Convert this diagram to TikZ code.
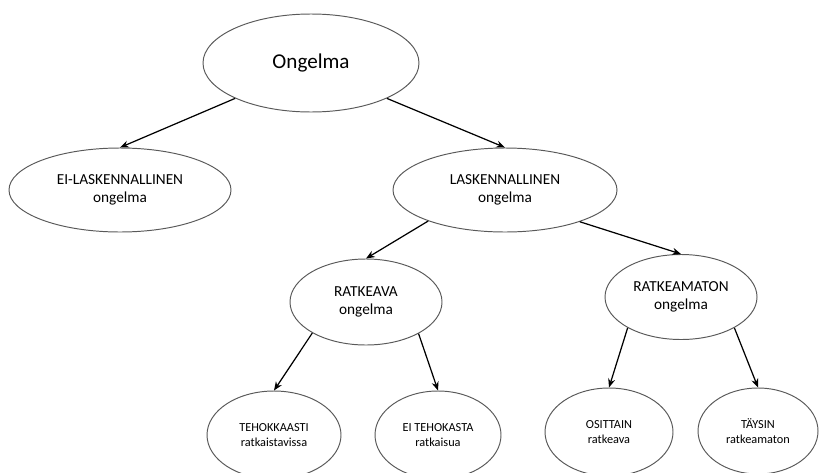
\documentclass[tikz,border=0pt]{standalone}
\usepackage{fontspec}
\setmainfont{Carlito}
\usetikzlibrary{arrows.meta}
\usetikzlibrary{shapes}
\usetikzlibrary{positioning}

\begin{document}
\begin{tikzpicture}
            \tikzset{every node/.style={ellipse, draw=black!65, line width=0.55pt, inner sep=0pt, align=center, text=black},
                    >={Stealth[black, length=5pt, width=4pt]},
                    every edge/.style={draw=black, line width=0.7pt},
                    toptext/.style={font=\fontsize{12}{14}\selectfont},
                    midtext/.style={font=\fontsize{8.7}{10.5}\selectfont},
                    lowtext/.style={font=\fontsize{7}{8.6}\selectfont}}
            \useasboundingbox (0,0) rectangle (16.38,-9.44);
            \node[toptext, minimum width=4.32cm, minimum height=1.96cm] (1) at (6.22, -1.26) {Ongelma};
            \node[midtext, minimum width=4.44cm, minimum height=1.68cm] (2) at (2.40, -3.80) {EI-LASKENNALLINEN\\ongelma};
            \node[midtext, minimum width=4.48cm, minimum height=1.68cm] (3) at (10.10, -3.80) {LASKENNALLINEN\\ongelma};
            \node[midtext, minimum width=3.04cm, minimum height=1.72cm] (4) at (7.32, -6.04) {RATKEAVA\\ongelma};
            \node[midtext, minimum width=3.04cm, minimum height=1.70cm] (5) at (13.62, -5.94) {RATKEAMATON\\ongelma};
            \node[lowtext, minimum width=2.68cm, minimum height=1.76cm] (6) at (5.48, -8.70) {TEHOKKAASTI\\ratkaistavissa};
            \node[lowtext, minimum width=2.52cm, minimum height=1.76cm] (7) at (8.76, -8.70) {EI TEHOKASTA\\ratkaisua};
            \node[lowtext, minimum width=2.56cm, minimum height=1.76cm] (8) at (12.18, -8.64) {OSITTAIN\\ratkeava};
            \node[lowtext, minimum width=2.40cm, minimum height=1.72cm] (9) at (15.16, -8.62) {TÄYSIN\\ratkeamaton};
            \path [->] (1.205) edge (2.north);
            \path [->] (1.335) edge (3.north);
            \path [->] (3.202) edge (4.north);
            \path [->] (3.337) edge (5.north);
            \path [->] (4.210) edge (6.north);
            \path [->] (4.329) edge (7.north);
            \path [->] (5.210) edge (8.north);
            \path [->] (5.330) edge (9.north);
        \end{tikzpicture}
\end{document}
